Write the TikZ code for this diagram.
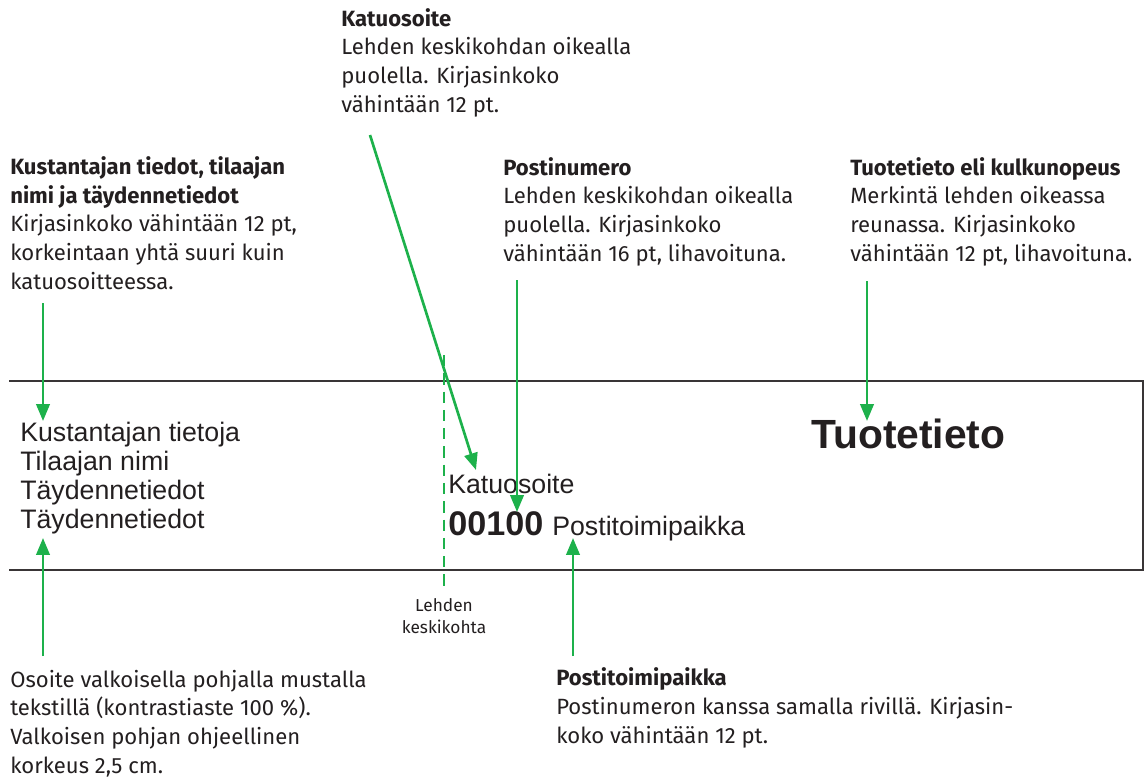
\documentclass[tikz,border=0pt]{standalone}
\usepackage{fontspec}
\usepackage{tikz}
\usetikzlibrary{arrows.meta}
\setmainfont{Fira Sans}
\newfontfamily\helv{Liberation Sans}
\definecolor{postgreen}{RGB}{29,177,75}
\definecolor{ink}{RGB}{35,31,32}

\begin{document}
\begin{tikzpicture}[x=0.025cm,y=-0.025cm,
		note/.style={anchor=base west,inner sep=0,align=left,text=ink,font=\fontsize{15.7}{20.3}\selectfont},
		sample/.style={anchor=base west,inner sep=0,align=left,text=ink,font=\helv\fontsize{19}{20.6}\selectfont},
		pointer/.style={postgreen,line width=1.9pt,-{Triangle[length=12pt,width=9.5pt]}}]
			\useasboundingbox (0,0) rectangle (1148,778);
			\draw[ink!90,line width=1.2pt] (9,381) -- (1143,381) -- (1143,570) -- (9,570);
			\draw[postgreen,line width=1.6pt,dash pattern=on 8pt off 5pt] (444,355) -- (444,590);
			\node[anchor=base,inner sep=0,align=center,text=ink,font=\fontsize{12.3}{15}\selectfont] (middle) at (444,633) {Lehden\\keskikohta};
			\node[note] (katu) at (341,112) {\textbf{Katuosoite}\\Lehden keskikohdan oikealla\\puolella. Kirjasinkoko\\vähintään 12 pt.};
			\node[note] (kustantaja) at (10,289) {\textbf{Kustantajan tiedot, tilaajan}\\\textbf{nimi ja täydennetiedot}\\Kirjasinkoko vähintään 12 pt,\\korkeintaan yhtä suuri kuin\\katuosoitteessa.};
			\node[note] (postinro) at (503,261) {\textbf{Postinumero}\\Lehden keskikohdan oikealla\\puolella. Kirjasinkoko\\vähintään 16 pt, lihavoituna.};
			\node[note] (tuote) at (850,261) {\textbf{Tuotetieto eli kulkunopeus}\\Merkintä lehden oikeassa\\reunassa. Kirjasinkoko\\vähintään 12 pt, lihavoituna.};
			\node[note] (osoite) at (10,773) {Osoite valkoisella pohjalla mustalla\\tekstillä (kontrastiaste 100 \%).\\Valkoisen pohjan ohjeellinen\\korkeus 2,5 cm.};
			\node[note] (toimipaikka) at (556,743) {\textbf{Postitoimipaikka}\\Postinumeron kanssa samalla rivillä. Kirjasin-\\koko vähintään 12 pt.};
			\node[sample] (lahettaja) at (20,528) {Kustantajan tietoja\\Tilaajan nimi\\Täydennetiedot\\Täydennetiedot};
			\node[sample] (katusample) at (448,493) {Katuosoite};
			\node[sample,font=\helv\bfseries\fontsize{24.3}{26}\selectfont] (nrosample) at (448,535) {00100};
			\node[sample] (paikkasample) at (nrosample.base east) [anchor=base west,xshift=6pt] {Postitoimipaikka};
			\node[sample,font=\helv\bfseries\fontsize{29}{32}\selectfont] (tuotesample) at (811,448) {Tuotetieto};
			\coordinate (k1) at (370,135); \coordinate (k2) at (476,470);
			\coordinate (a1) at (43,303); \coordinate (a2) at (43,421);
			\coordinate (b1) at (43,656); \coordinate (b2) at (43,538);
			\coordinate (p1) at (517,280); \coordinate (p2) at (517,512);
			\coordinate (t1) at (867,281); \coordinate (t2) at (867,421);
			\coordinate (s1) at (573,656); \coordinate (s2) at (573,538);
			\draw[pointer] (k1) -- (k2);
			\draw[pointer] (a1) -- (a2);
			\draw[pointer] (b1) -- (b2);
			\draw[pointer] (p1) -- (p2);
			\draw[pointer] (t1) -- (t2);
			\draw[pointer] (s1) -- (s2);
		\end{tikzpicture}
\end{document}
